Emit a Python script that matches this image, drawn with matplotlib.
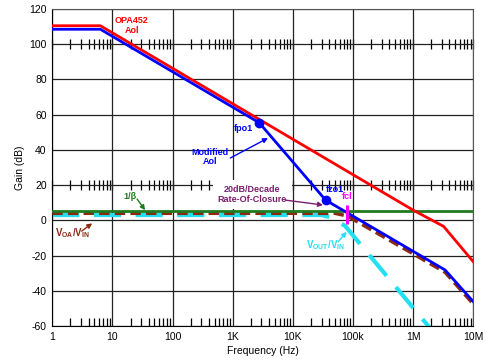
import matplotlib
matplotlib.use('Agg')
import matplotlib.pyplot as plt
from matplotlib.ticker import LogLocator, NullFormatter

plt.rcParams['font.family'] = ['Liberation Sans', 'DejaVu Sans']
plt.rcParams['mathtext.fontset'] = 'custom'
plt.rcParams['mathtext.bf'] = 'Liberation Sans:bold'
plt.rcParams['mathtext.rm'] = 'Liberation Sans'
plt.rcParams['axes.unicode_minus'] = False

# OPA452 open loop gain (red)
aol_freq = [1, 6.3, 1e6, 3.2e6, 1e7]
aol_gain = [110.5, 110.5, 5.8, -3.4, -23.5]

# modified Aol (blue); index 2 = fpo1, index 3 = fzo1
mod_freq = [1, 6.3, 2.76e3, 3.5e4, 3.4e6, 1e7]
mod_gain = [108.5, 108.5, 55.4, 11.5, -28.2, -46.2]

# 1/beta (green)
beta_freq = [1, 1e7]
beta_gain = [5.5, 5.5]

# VOA/VIN (brown dashed)
voa_freq = [1, 5e4, 8e4, 1e6, 3.4e6, 1e7]
voa_gain = [4.0, 4.0, 2.5, -19.0, -29.5, -47.5]

# VOUT/VIN (cyan dashed)
vout_freq = [1, 3e4, 4.5e4, 7.4e4, 2.5e6]
vout_gain = [3.0, 3.0, 1.5, -3.2, -66.0]

# fcl marker
fcl_freq = 7.84e4
fcl_span = [-2.1, 8.5]

x_ticks = [1, 10, 100, 1e3, 1e4, 1e5, 1e6, 1e7]
x_labels = ['1', '10', '100', '1K', '10K', '100k', '1M', '10M']
y_ticks = [-60, -40, -20, 0, 20, 40, 60, 80, 100, 120]

fig = plt.figure(figsize=(5, 3.6), dpi=100)
ax = fig.add_axes([0.1046, 0.0944, 0.842, 0.8806])

ax.plot(vout_freq, vout_gain, color='#22e0f0', lw=3, dashes=(6.5, 3.5), zorder=2)
ax.plot(voa_freq, voa_gain, color='#8b2a10', lw=2.5, dashes=(3, 1.5), zorder=3)
ax.plot(beta_freq, beta_gain, color='#1f7a1f', lw=2, zorder=4)
ax.plot(aol_freq, aol_gain, color='#ff0000', lw=2, zorder=4)
ax.plot(mod_freq, mod_gain, color='#0000ff', lw=2, zorder=5)
ax.plot([mod_freq[2], mod_freq[3]], [mod_gain[2], mod_gain[3]], 'o',
        color='#0000ff', ms=6, zorder=6)
ax.vlines(fcl_freq, fcl_span[0], fcl_span[1], color='#ff00ff', lw=2.2, zorder=6)

ax.set_xscale('log')
ax.set_xlim(1, 1e7)
ax.set_ylim(-60, 120)
ax.set_xticks(x_ticks, labels=x_labels)
ax.set_yticks(y_ticks)
ax.xaxis.set_minor_locator(LogLocator(base=10, subs=range(2, 10)))
ax.xaxis.set_minor_formatter(NullFormatter())
ax.tick_params(which='major', length=0, labelsize=7.5, pad=4)
ax.tick_params(which='minor', direction='in', length=6, width=0.9, top=False)
ax.grid(True, which='major', color='#222222', lw=0.9)
ax.set_axisbelow(True)
for s in ['left', 'bottom']:
    ax.spines[s].set_color('black')
for s in ['top', 'right']:
    ax.spines[s].set_color('#555555')

# tick rulers drawn across the 100 dB and 20 dB lines
for level in [100, 20]:
    sec = ax.secondary_xaxis((level + 60) / 180)
    sec.set_xticks(x_ticks, labels=[''] * len(x_ticks))
    sec.xaxis.set_minor_locator(LogLocator(base=10, subs=range(2, 10)))
    sec.xaxis.set_minor_formatter(NullFormatter())
    sec.xaxis.set_ticks_position('both')
    sec.tick_params(which='both', direction='in', length=3.5, width=0.9,
                    labelbottom=False, labeltop=False)
    sec.spines['top'].set_visible(False)
    sec.spines['bottom'].set_visible(False)

ax.set_xlabel('Frequency (Hz)', fontsize=7.5, labelpad=3)
ax.set_ylabel('Gain (dB)', fontsize=7.5, labelpad=3)

bold = dict(fontsize=6.5, fontweight='bold', ha='center', va='center')
ax.text(21, 110.7, 'OPA452\nAol', color='#ff0000', linespacing=1.1, **bold)
ax.text(1480, 52.4, 'fpo1', color='#0000ff', **bold)
ax.text(422, 36, 'Modified\nAol', color='#0000ff', linespacing=1.1, **bold)
ax.annotate('', xy=(3850, 46.7), xytext=(912, 35.4),
            arrowprops=dict(arrowstyle='-|>', color='#0000ff', lw=1,
                            mutation_scale=7, shrinkA=0, shrinkB=0))
ax.text(5.0e4, 17.6, 'fzo1', color='#0000ff', **bold)
ax.text(7.9e4, 13.4, 'fcl', color='#ff00ff', **bold)
ax.text(2100, 14.9, '20dB/Decade\nRate-Of-Closure', color='#7a1f70',
        linespacing=1.15, zorder=3,
        bbox=dict(facecolor='white', edgecolor='none', pad=3.5), **bold)
ax.annotate('', xy=(3.17e4, 8.7), xytext=(7450, 11.5),
            arrowprops=dict(arrowstyle='-|>', color='#7a1f70', lw=1,
                            mutation_scale=7, shrinkA=0, shrinkB=0))
ax.text(19.7, 13.8, '1/β', color='#1f7a1f', **bold)
ax.annotate('', xy=(34.9, 5.8), xytext=(25.7, 12.1),
            arrowprops=dict(arrowstyle='-|>', color='#1f7a1f', lw=1,
                            mutation_scale=7, shrinkA=0, shrinkB=0))
ax.text(2.17, -7.4, r'$\mathbf{V_{OA}/V_{IN}}$', color='#8b2a10',
        fontsize=7, ha='center', va='center')
ax.annotate('', xy=(4.6, -1.7), xytext=(3.08, -6.1),
            arrowprops=dict(arrowstyle='-|>', color='#8b2a10', lw=1,
                            mutation_scale=7, shrinkA=0, shrinkB=0))
ax.text(3.43e4, -14, r'$\mathbf{V_{OUT}/V_{IN}}$', color='#22e0f0',
        fontsize=7, ha='center', va='center')
ax.annotate('', xy=(7.84e4, -6.5), xytext=(5.69e4, -12.1),
            arrowprops=dict(arrowstyle='-|>', color='#22e0f0', lw=1,
                            mutation_scale=7, shrinkA=0, shrinkB=0))

fig.savefig('out.png', dpi=100)
